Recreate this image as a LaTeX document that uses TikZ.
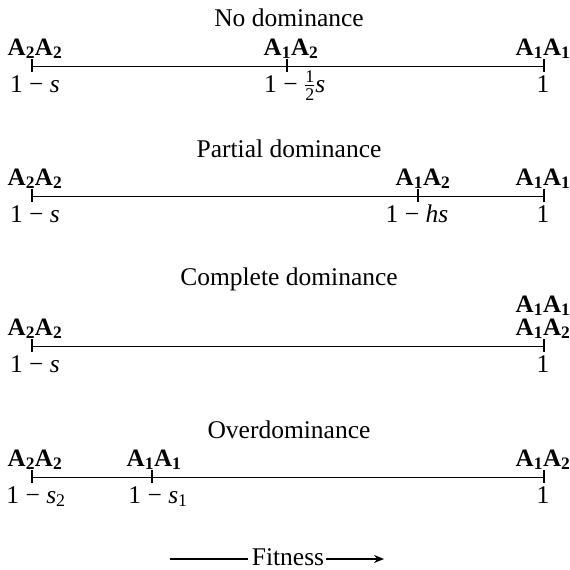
\documentclass[tikz,border=0pt]{standalone}
\usepackage{fontspec}
\setmainfont{Liberation Serif}
\usepackage{amsmath}
\usetikzlibrary{arrows.meta}
\begin{document}
\begin{tikzpicture}[x=1pt,y=-1pt,
  txt/.style={inner sep=0pt,anchor=base,font=\fontsize{25.5}{29}\selectfont},
  lab/.style={inner sep=0pt,anchor=base,font=\fontsize{25}{29}\selectfont\bfseries},
  axis/.style={line width=0.9pt},
  tickmark/.style={line width=1.4pt},
  arr/.style={line width=1.2pt,-{Stealth[length=10pt,width=8pt]}}]
\useasboundingbox (0,0) rectangle (570,570);
\newcommand{\tk}[1]{\draw[tickmark] ([yshift=7pt]#1) -- ([yshift=-6pt]#1);}
% ---------- No dominance
\node[txt] (t1) at (289,27) {No dominance};
\coordinate (p1l) at (32,66);
\coordinate (p1m) at (287,66);
\coordinate (p1r) at (544,66);
\draw[axis] (p1l) -- (p1r);
\tk{p1l}\tk{p1m}\tk{p1r}
\node[lab] (p1a) at (35,55) {A\textsubscript{2}A\textsubscript{2}};
\node[lab] (p1b) at (291,55) {A\textsubscript{1}A\textsubscript{2}};
\node[lab] (p1c) at (543,55) {A\textsubscript{1}A\textsubscript{1}};
\node[txt] (p1x) at (35,92) {1 − \textit{s}};
\node[txt,anchor=base west] (p1y) at (264,92) {1 − $\tfrac{\text{1}}{\text{2}}$\textit{s}};
\node[txt] (p1z) at (543,92) {1};
% ---------- Partial dominance
\node[txt] (t2) at (289,157) {Partial dominance};
\coordinate (p2l) at (32,196);
\coordinate (p2m) at (418,196);
\coordinate (p2r) at (544,196);
\draw[axis] (p2l) -- (p2r);
\tk{p2l}\tk{p2m}\tk{p2r}
\node[lab] (p2a) at (35,185) {A\textsubscript{2}A\textsubscript{2}};
\node[lab] (p2b) at (423,185) {A\textsubscript{1}A\textsubscript{2}};
\node[lab] (p2c) at (543,185) {A\textsubscript{1}A\textsubscript{1}};
\node[txt] (p2x) at (35,222) {1 − \textit{s}};
\node[txt] (p2y) at (417,222) {1 − \textit{hs}};
\node[txt] (p2z) at (543,222) {1};
% ---------- Complete dominance
\node[txt] (t3) at (289,285) {Complete dominance};
\coordinate (p3l) at (32,346);
\coordinate (p3r) at (544,346);
\draw[axis] (p3l) -- (p3r);
\tk{p3l}\tk{p3r}
\node[lab] (p3a) at (35,335) {A\textsubscript{2}A\textsubscript{2}};
\node[lab] (p3b) at (543,312) {A\textsubscript{1}A\textsubscript{1}};
\node[lab] (p3c) at (543,335) {A\textsubscript{1}A\textsubscript{2}};
\node[txt] (p3x) at (35,372) {1 − \textit{s}};
\node[txt] (p3z) at (543,372) {1};
% ---------- Overdominance
\node[txt] (t4) at (289,438) {Overdominance};
\coordinate (p4l) at (32,477);
\coordinate (p4m) at (152,477);
\coordinate (p4r) at (544,477);
\draw[axis] (p4l) -- (p4r);
\tk{p4l}\tk{p4m}\tk{p4r}
\node[lab] (p4a) at (35,466) {A\textsubscript{2}A\textsubscript{2}};
\node[lab] (p4b) at (154,466) {A\textsubscript{1}A\textsubscript{1}};
\node[lab] (p4c) at (543,466) {A\textsubscript{1}A\textsubscript{2}};
\node[txt] (p4x) at (36,503) {1 − \textit{s}\textsubscript{2}};
\node[txt] (p4y) at (158,503) {1 − \textit{s}\textsubscript{1}};
\node[txt] (p4z) at (543,503) {1};
% ---------- Fitness
\node[txt] (fit) at (288,565) {Fitness};
\coordinate (fl) at (170,559);
\coordinate (fr) at (384,559);
\draw[line width=1.2pt] (fl) -- ([xshift=-4pt]fit.west |- fl);
\draw[arr] ([xshift=2pt]fit.east |- fl) -- (fr);
\end{tikzpicture}
\end{document}
